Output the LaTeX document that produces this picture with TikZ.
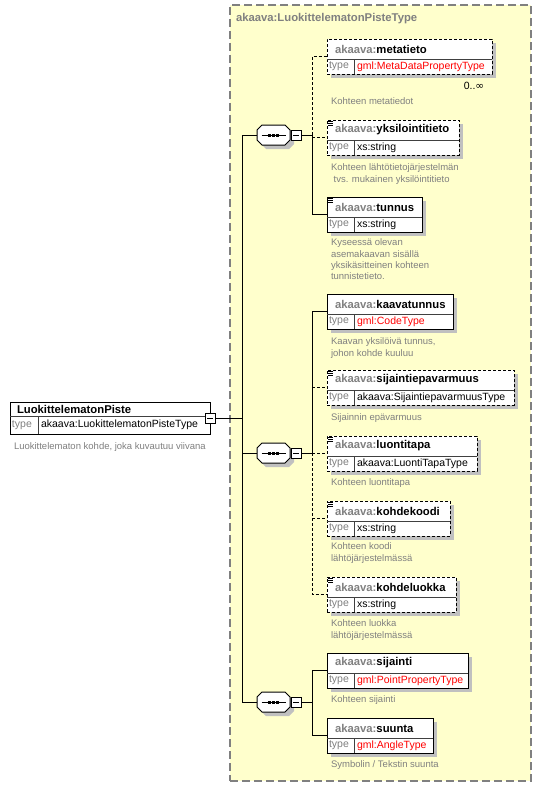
\documentclass[tikz,border=0pt]{standalone}
\usepackage{fontspec}
\setmainfont{Liberation Sans}
\newfontfamily\djvfont{DejaVu Sans}
\definecolor{bgyellow}{RGB}{255,255,204}
\definecolor{shgray}{RGB}{192,192,192}
\definecolor{txgray}{RGB}{128,128,128}
\definecolor{typered}{RGB}{255,0,0}
\tikzset{
  every node/.style={inner sep=0pt,outer sep=0pt},
  hdr/.style={font=\fontsize{11.3}{13}\selectfont\bfseries,anchor=west},
  typ/.style={font=\fontsize{10.5}{12}\selectfont,anchor=west},
  dsc/.style={font=\fontsize{9.5}{11.3}\selectfont,text=txgray,anchor=north west,align=left},
  elbox/.style={draw=black,line width=1pt,fill=white,anchor=north west},
  optbox/.style={dash pattern=on 3pt off 2pt},
  reqbox/.style={},
  innerline/.style={draw=black!75,line width=0.7pt},
  conn/.style={draw=black,line width=1pt},
  optconn/.style={conn,dash pattern=on 3pt off 2pt},
  seqbox/.style={rectangle,minimum width=33pt,minimum height=20pt},
  minusbox/.style={draw=black,line width=1pt,fill=white,minimum size=10pt,
    path picture={\draw[line width=0.9pt] ([xshift=2pt]path picture bounding box.west) -- ([xshift=-2pt]path picture bounding box.east);}},
}
% #1 name, #2 x, #3 top, #4 right, #5 local name, #6 type, #7 type colour, #8 border style, #9 icon flag
\newcommand\xsdelem[9]{%
  \pgfmathsetmacro\elw{#4-#2}%
  \fill[shgray] (#2+4,#3+4) rectangle (#4+4,#3+39);
  \node[elbox,#8,minimum width=\elw pt,minimum height=35pt] (#1) at (#2,#3) {};
  \draw[innerline] (#2,#3+20) -- (#4,#3+20) (#2+27,#3+20) -- (#2+27,#3+35);
  \node[hdr] (#1n) at (#2+8,#3+10) {\textcolor{txgray}{akaava:}#5};
  \node[typ,text=txgray] (#1tl) at (#2+2,#3+27.5) {type};
  \node[typ,text=#7] (#1tv) at (#2+30,#3+27.5) {#6};
  \ifnum#9=1 \draw[line width=0.9pt] (#2+1,#3+1.5) -- ++(5,0) (#2+1,#3+3.5) -- ++(5,0) (#2+1,#3+5.5) -- ++(5,0);\fi
}
\newcommand\octpath{(-11.5,-10) -- (11.5,-10) -- (16.5,-5) -- (16.5,5) -- (11.5,10) -- (-11.5,10) -- (-16.5,5) -- (-16.5,-5) -- cycle}
\newcommand\seqicon[1]{%
  \fill[shgray,shift={(#1.center)},xshift=4pt,yshift=-4pt] \octpath;
  \draw[line width=1pt,fill=white,shift={(#1.center)}] \octpath;
  \draw[line width=1pt] ([xshift=-12pt]#1.center) -- ([xshift=12pt]#1.center);
  \foreach \dx in {-4,0,4} \fill ([xshift=\dx pt]#1.center) +(-1.5,-1.5) rectangle +(1.5,1.5);
}
\begin{document}
\begin{tikzpicture}[x=1pt,y=-1pt]
\useasboundingbox[fill=white] (0,0) rectangle (542,787);
% complex type container
\node[draw=txgray,line width=1.2pt,dash pattern=on 8pt off 4pt,fill=bgyellow,anchor=north west,
  minimum width=301pt,minimum height=776pt] (ctype) at (230,5) {};
\node[hdr,text=txgray] (ctitle) at (236,19) {akaava:LuokittelematonPisteType};

% root element
\node[elbox,minimum width=200pt,minimum height=32pt] (root) at (10,402) {};
\draw[innerline] (10,416) -- (210,416) (38,416) -- (38,434);
\node[hdr] (rootn) at (17,409) {LuokittelematonPiste};
\node[typ,text=txgray] (roottl) at (12,425) {type};
\node[typ] (roottv) at (41,425) {akaava:LuokittelematonPisteType};
\node[minusbox] (m0) at (210,418) {};
\node[dsc] (rootd) at (14,443) {Luokittelematon kohde, joka kuvautuu viivana};

% sequences
\node[seqbox] (s1) at (273.5,135) {};
\node[seqbox] (s2) at (273.5,453) {};
\node[seqbox] (s3) at (273.5,702) {};
\seqicon{s1}\seqicon{s2}\seqicon{s3}
\node[minusbox,anchor=west] (m1) at ([xshift=1pt]s1.east) {};
\node[minusbox,anchor=west] (m2) at ([xshift=1pt]s2.east) {};
\node[minusbox,anchor=west] (m3) at ([xshift=1pt]s3.east) {};

% elements
\xsdelem{emeta}{327}{39}{492}{metatieto}{gml:MetaDataPropertyType}{typered}{optbox}{0}
\node[typ,anchor=center] (mult) at (474,86) {0..{\djvfont ∞}};
\node[dsc] (dmeta) at (331,98) {Kohteen metatiedot};
\xsdelem{eyks}{327}{120}{459}{yksilointitieto}{xs:string}{black}{optbox}{1}
\node[dsc] (dyks) at (331,164) {Kohteen lähtötietojärjestelmän\\\ tvs. mukainen yksilöintitieto};
\xsdelem{etun}{327}{197}{422}{tunnus}{xs:string}{black}{reqbox}{1}
\node[dsc] (dtun) at (331,239) {Kyseessä olevan\\asemakaavan sisällä\\yksikäsitteinen kohteen\\tunnistetieto.};

\xsdelem{ekaava}{327}{294}{453}{kaavatunnus}{gml:CodeType}{typered}{reqbox}{0}
\node[dsc] (dkaava) at (331,338) {Kaavan yksilöivä tunnus,\\johon kohde kuuluu};
\xsdelem{esijep}{327}{370}{514}{sijaintiepavarmuus}{akaava:SijaintiepavarmuusType}{black}{optbox}{1}
\node[dsc] (dsijep) at (331,414) {Sijainnin epävarmuus};
\xsdelem{eluonti}{327}{436}{477}{luontitapa}{akaava:LuontiTapaType}{black}{optbox}{1}
\node[dsc] (dluonti) at (331,479) {Kohteen luontitapa};
\xsdelem{ekoodi}{327}{501}{450}{kohdekoodi}{xs:string}{black}{optbox}{1}
\node[dsc] (dkoodi) at (331,543) {Kohteen koodi\\lähtöjärjestelmässä};
\xsdelem{eluokka}{327}{577}{456}{kohdeluokka}{xs:string}{black}{optbox}{1}
\node[dsc] (dluokka) at (331,620) {Kohteen luokka\\lähtöjärjestelmässä};

\xsdelem{esij}{327}{653}{468}{sijainti}{gml:PointPropertyType}{typered}{reqbox}{0}
\node[dsc] (dsij) at (331,696) {Kohteen sijainti};
\xsdelem{esuu}{327}{718}{433}{suunta}{gml:AngleType}{typered}{reqbox}{0}
\node[dsc] (dsuu) at (331,761) {Symbolin / Tekstin suunta};

% connectors root -> sequences
\coordinate (j0) at (242,418);
\draw[conn] (m0.east) -- (j0);
\draw[conn] (j0 |- s1) -- (j0 |- s3);
\draw[conn] (j0 |- s1) -- (s1.west);
\draw[conn] (j0 |- s2) -- (s2.west);
\draw[conn] (j0 |- s3) -- (s3.west);

% sequence 1
\coordinate (b1) at (312,135);
\draw[conn] (m1.east) -- (b1);
\draw[optconn] (b1) -- (b1 |- emeta.west) -- (emeta.west);
\draw[optconn] (b1 |- eyks.west) -- (eyks.west);
\draw[conn] (b1) -- (b1 |- etun.west) -- (etun.west);

% sequence 2
\coordinate (b2) at (312,453);
\draw[conn] (m2.east) -- (b2);
\draw[conn] (b2) -- (b2 |- ekaava.west) -- (ekaava.west);
\draw[optconn] (b2) -- (b2 |- eluokka.west) -- (eluokka.west);
\draw[optconn] (b2 |- esijep.west) -- (esijep.west);
\draw[optconn] (b2 |- eluonti.west) -- (eluonti.west);
\draw[optconn] (b2 |- ekoodi.west) -- (ekoodi.west);

% sequence 3
\coordinate (b3) at (312,702);
\draw[conn] (m3.east) -- (b3);
\draw[conn] (esij.west) -- (b3 |- esij.west) -- (b3 |- esuu.west) -- (esuu.west);
\end{tikzpicture}
\end{document}
